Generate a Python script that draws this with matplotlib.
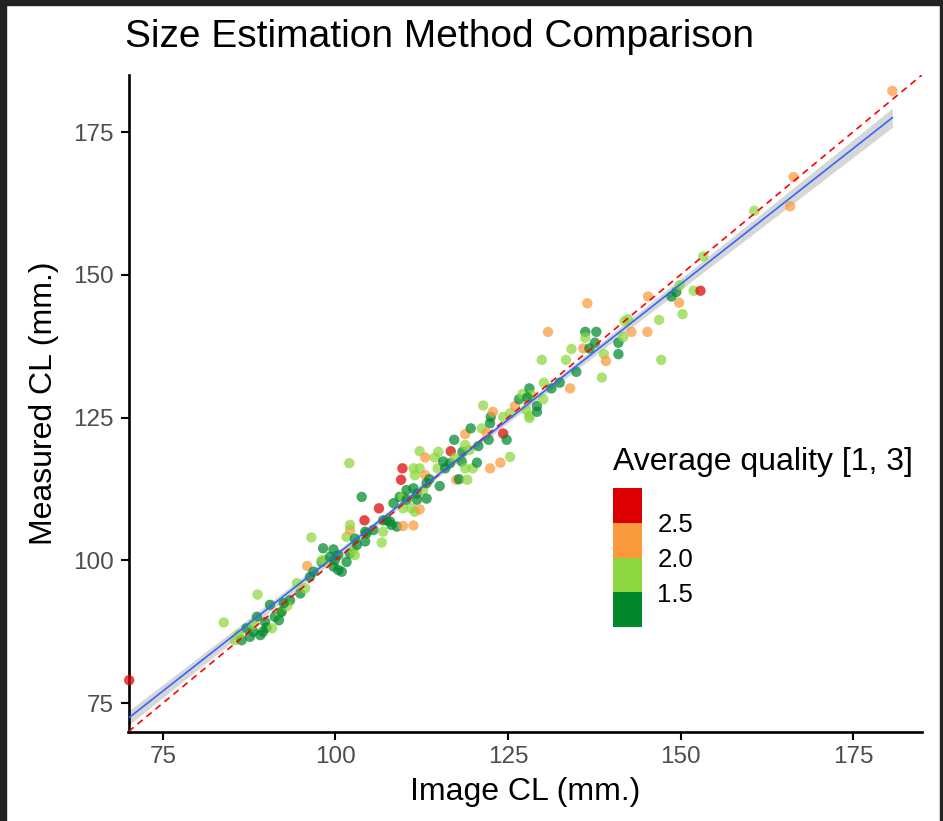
import numpy as np
import matplotlib
matplotlib.use('Agg')
import matplotlib.pyplot as plt
from matplotlib.colors import ListedColormap, BoundaryNorm
from matplotlib.patches import Rectangle
import matplotlib.colorbar as mcolorbar

plt.rcParams['font.family'] = ['Liberation Sans', 'DejaVu Sans']

#---------------------------------------------------------------------#
# Data. Rows of the three lists line   #
# up one to one (12 points per row).                                  #
#---------------------------------------------------------------------#
image_cl = [
    70.1, 83.8, 85.4, 86.4, 87.1, 87.6, 88.1, 88.6, 88.7, 89.1, 89.8, 90.0,
    90.5, 90.8, 91.2, 92.0, 92.2, 93.4, 94.4, 94.9, 95.6, 95.9, 96.3, 96.8,
    98.0, 100.4, 86.0, 89.5, 91.8, 88.0, 93.0, 92.5, 96.5, 98.2, 98.0, 98.5,
    99.2, 99.7, 99.7, 99.9, 100.4, 100.9, 101.6, 101.6, 102.1, 102.1, 102.1, 102.0,
    102.6, 102.8, 102.8, 103.1, 103.8, 104.2, 104.3, 104.3, 104.5, 105.5, 106.3, 106.7,
    106.9, 106.9, 107.4, 107.9, 108.1, 108.4, 108.9, 109.3, 109.5, 109.7, 109.8, 109.8,
    109.8, 110.3, 110.3, 111.0, 111.5, 111.3, 111.3, 111.3, 111.8, 111.8, 112.2, 112.2,
    112.2, 112.7, 113.0, 113.0, 111.5, 113.2, 113.2, 113.6, 114.4, 114.8, 114.9, 115.1,
    115.6, 115.9, 116.6, 116.7, 117.2, 117.3, 117.5, 117.9, 118.3, 118.4, 118.8, 118.8,
    118.8, 119.1, 119.4, 119.6, 119.9, 120.5, 120.7, 121.2, 121.4, 121.9, 122.2, 122.4,
    122.4, 122.5, 122.8, 123.9, 124.3, 124.3, 124.8, 125.3, 126.0, 126.6, 127.1, 127.6,
    128.1, 128.1, 128.4, 129.2, 129.2, 129.9, 130.1, 130.2, 130.8, 131.3, 132.5, 133.4,
    134.0, 134.2, 134.9, 135.9, 136.2, 136.2, 136.5, 136.8, 137.6, 137.8, 138.6, 138.9,
    139.2, 141.0, 141.0, 141.7, 141.9, 142.4, 142.9, 145.2, 145.3, 146.9, 147.2, 148.7,
    149.4, 149.8, 149.9, 150.3, 151.9, 152.9, 153.3, 160.7, 165.9, 166.4, 180.7,
    125.3, 128.1, 127.8,
]
measured_cl = [
    79.0, 89.1, 86.0, 86.0, 88.1, 86.6, 87.5, 90.1, 94.0, 86.9, 89.2, 88.2,
    92.2, 88.1, 90.1, 90.7, 91.0, 93.0, 96.0, 94.2, 95.1, 99.0, 97.1, 98.0,
    99.7, 98.3, 87.0, 87.5, 89.5, 88.8, 92.0, 92.5, 104.0, 102.1, 100.0, 100.0,
    100.6, 101.9, 98.9, 100.0, 100.9, 98.0, 99.7, 104.1, 101.2, 105.3, 106.2, 117.0,
    101.8, 103.8, 100.9, 102.7, 111.1, 107.0, 105.0, 103.3, 104.7, 105.3, 109.1, 103.1,
    107.0, 105.0, 107.0, 106.8, 106.2, 110.0, 105.9, 111.1, 114.1, 116.1, 109.1, 111.1,
    106.0, 110.6, 112.3, 109.1, 108.5, 106.1, 112.6, 116.1, 111.7, 110.6, 108.9, 116.1,
    119.1, 112.3, 118.0, 114.9, 114.9, 110.8, 113.5, 114.2, 118.0, 116.1, 119.0, 113.0,
    117.3, 116.1, 117.0, 119.1, 121.1, 117.9, 114.1, 114.2, 117.3, 119.0, 122.1, 120.2,
    116.1, 114.1, 119.3, 123.1, 116.1, 117.1, 120.0, 123.1, 127.1, 122.3, 121.1, 124.0,
    116.1, 125.1, 126.0, 117.1, 125.1, 122.2, 121.1, 125.7, 127.0, 128.2, 129.1, 126.4,
    130.1, 125.3, 128.9, 127.0, 126.0, 135.1, 128.2, 131.1, 140.0, 130.1, 131.1, 135.1,
    130.1, 137.0, 133.0, 137.1, 140.0, 139.0, 145.0, 137.1, 138.1, 140.0, 132.0, 136.1,
    134.9, 138.1, 136.1, 139.1, 141.9, 142.2, 140.0, 140.0, 146.2, 142.1, 135.1, 146.2,
    147.0, 145.1, 148.2, 143.1, 147.2, 147.2, 153.2, 161.2, 162.0, 167.1, 182.2,
    118.1, 124.9, 128.5,
]
# d = dark green (<1.5), l = light green, o = orange, r = red (>2.5)
quality_code = [
    'r', 'l', 'l', 'd', 'd', 'd', 'd', 'd', 'l', 'd', 'd', 'd',
    'd', 'l', 'd', 'l', 'd', 'd', 'l', 'd', 'l', 'o', 'd', 'd',
    'd', 'd', 'l', 'd', 'd', 'l', 'l', 'd', 'l', 'd', 'l', 'l',
    'd', 'd', 'd', 'd', 'd', 'd', 'd', 'l', 'd', 'o', 'l', 'l',
    'l', 'd', 'l', 'd', 'd', 'r', 'd', 'd', 'd', 'd', 'r', 'l',
    'd', 'l', 'd', 'd', 'd', 'd', 'd', 'd', 'r', 'r', 'l', 'l',
    'o', 'd', 'd', 'l', 'l', 'o', 'd', 'l', 'd', 'd', 'o', 'l',
    'l', 'l', 'o', 'o', 'l', 'd', 'd', 'd', 'l', 'l', 'l', 'd',
    'd', 'd', 'd', 'r', 'd', 'l', 'o', 'd', 'd', 'd', 'o', 'l',
    'l', 'l', 'l', 'd', 'l', 'd', 'd', 'l', 'l', 'o', 'd', 'd',
    'o', 'd', 'o', 'o', 'l', 'r', 'd', 'l', 'o', 'd', 'l', 'l',
    'd', 'l', 'l', 'd', 'd', 'l', 'l', 'l', 'o', 'd', 'd', 'l',
    'o', 'l', 'd', 'o', 'd', 'l', 'o', 'd', 'd', 'd', 'l', 'l',
    'o', 'd', 'd', 'l', 'l', 'l', 'o', 'o', 'o', 'l', 'l', 'd',
    'd', 'o', 'l', 'l', 'l', 'r', 'l', 'l', 'o', 'o', 'o',
    'l', 'l', 'd',
]
quality_map = {'d': 1.33, 'l': 1.67, 'o': 2.33, 'r': 2.67}

legend_ticks = [1.5, 2.0, 2.5]
step_colors = ['#00882B', '#8CD63F', '#FA9A3C', '#DD0000']


def fitLine(x, y, xs):
  #-------------------------------------------------------------------#
  # Ordinary least squares with a 95% confidence band, like lm smooth #
  #-------------------------------------------------------------------#
  n = len(x)
  slope, icept = np.polyfit(x, y, 1)
  resid = y - (icept + slope * x)
  s = np.sqrt(np.sum(resid ** 2) / (n - 2))
  xm = x.mean()
  se = s * np.sqrt(1.0 / n + (xs - xm) ** 2 / np.sum((x - xm) ** 2))
  fit = icept + slope * xs
  return fit, 1.97 * se


def generatePlot():
  x = np.array(image_cl)
  y = np.array(measured_cl)
  q = np.array([quality_map[c] for c in quality_code])

  W, H = 943, 821
  fig = plt.figure(figsize=(W / 100, H / 100), dpi=100)
  ax = fig.add_axes([128.5 / W, 1 - 731.6 / H, (922 - 128.5) / W, (731.6 - 74.9) / H])

  cmap = ListedColormap(step_colors)
  norm = BoundaryNorm([1.0, 1.5, 2.0, 2.5, 3.0], cmap.N)

  ax.scatter(x, y, c=q, cmap=cmap, norm=norm, s=56, alpha=0.72,
             linewidths=0, zorder=3, clip_on=False)

  lims = np.array([70, 185])
  ax.plot(lims, lims, color='red', linestyle=(0, (4, 3)), linewidth=1.2, zorder=4)

  xs = np.linspace(x.min(), x.max(), 100)
  fit, band = fitLine(x, y, xs)
  ax.fill_between(xs, fit - band, fit + band, color='#999999', alpha=0.4,
                  linewidth=0, zorder=2)
  ax.plot(xs, fit, color='#3366FF', linewidth=1.2, zorder=5)

  ax.set_xlim(70, 185)
  ax.set_ylim(70, 185)
  ax.set_xticks([75, 100, 125, 150, 175])
  ax.set_yticks([75, 100, 125, 150, 175])
  for side in ['top', 'right']:
    ax.spines[side].set_visible(False)
  for side in ['left', 'bottom']:
    ax.spines[side].set_linewidth(1.9)
    ax.spines[side].set_color('black')
  ax.tick_params(axis='both', length=5.5, width=1.5, color='black',
                 labelsize=17.5, labelcolor='#4D4D4D', pad=5)
  ax.set_xlabel('Image CL (mm.)', fontsize=23, labelpad=6)
  ax.set_ylabel('Measured CL (mm.)', fontsize=23, labelpad=10)

  fig.text(125 / W, 1 - 37 / H, 'Size Estimation Method Comparison',
           fontsize=28, ha='left', va='center')

  #-------------------------------------------------------------------#
  # Stepped colour legend                                             #
  #-------------------------------------------------------------------#
  fig.text(613 / W, 1 - 462 / H, 'Average quality [1, 3]', fontsize=23,
           ha='left', va='center')
  cax = fig.add_axes([613 / W, 1 - 627 / H, 29 / W, 139 / H])
  cb = mcolorbar.ColorbarBase(cax, cmap=cmap, norm=norm,
                              boundaries=[1.0, 1.5, 2.0, 2.5, 3.0],
                              ticks=legend_ticks, orientation='vertical')
  cb.outline.set_visible(False)
  cb.ax.minorticks_off()
  cb.ax.set_yticks(legend_ticks)
  cb.ax.set_yticklabels(['%.1f' % t for t in legend_ticks])
  cb.ax.tick_params(which='both', length=0, labelsize=18.5, pad=11,
                    labelcolor='black')

  # dark screenshot frame
  for (x0, y0, w, h) in [(0, 0, 6, H), (0, 0, W, 5), (W - 3, 0, 3, H)]:
    fig.patches.append(Rectangle((x0 / W, 1 - (y0 + h) / H), w / W, h / H,
                                 transform=fig.transFigure, color='#222222',
                                 zorder=10))

  fig.savefig('out.png', dpi=100)


if __name__ == '__main__':
  generatePlot()
